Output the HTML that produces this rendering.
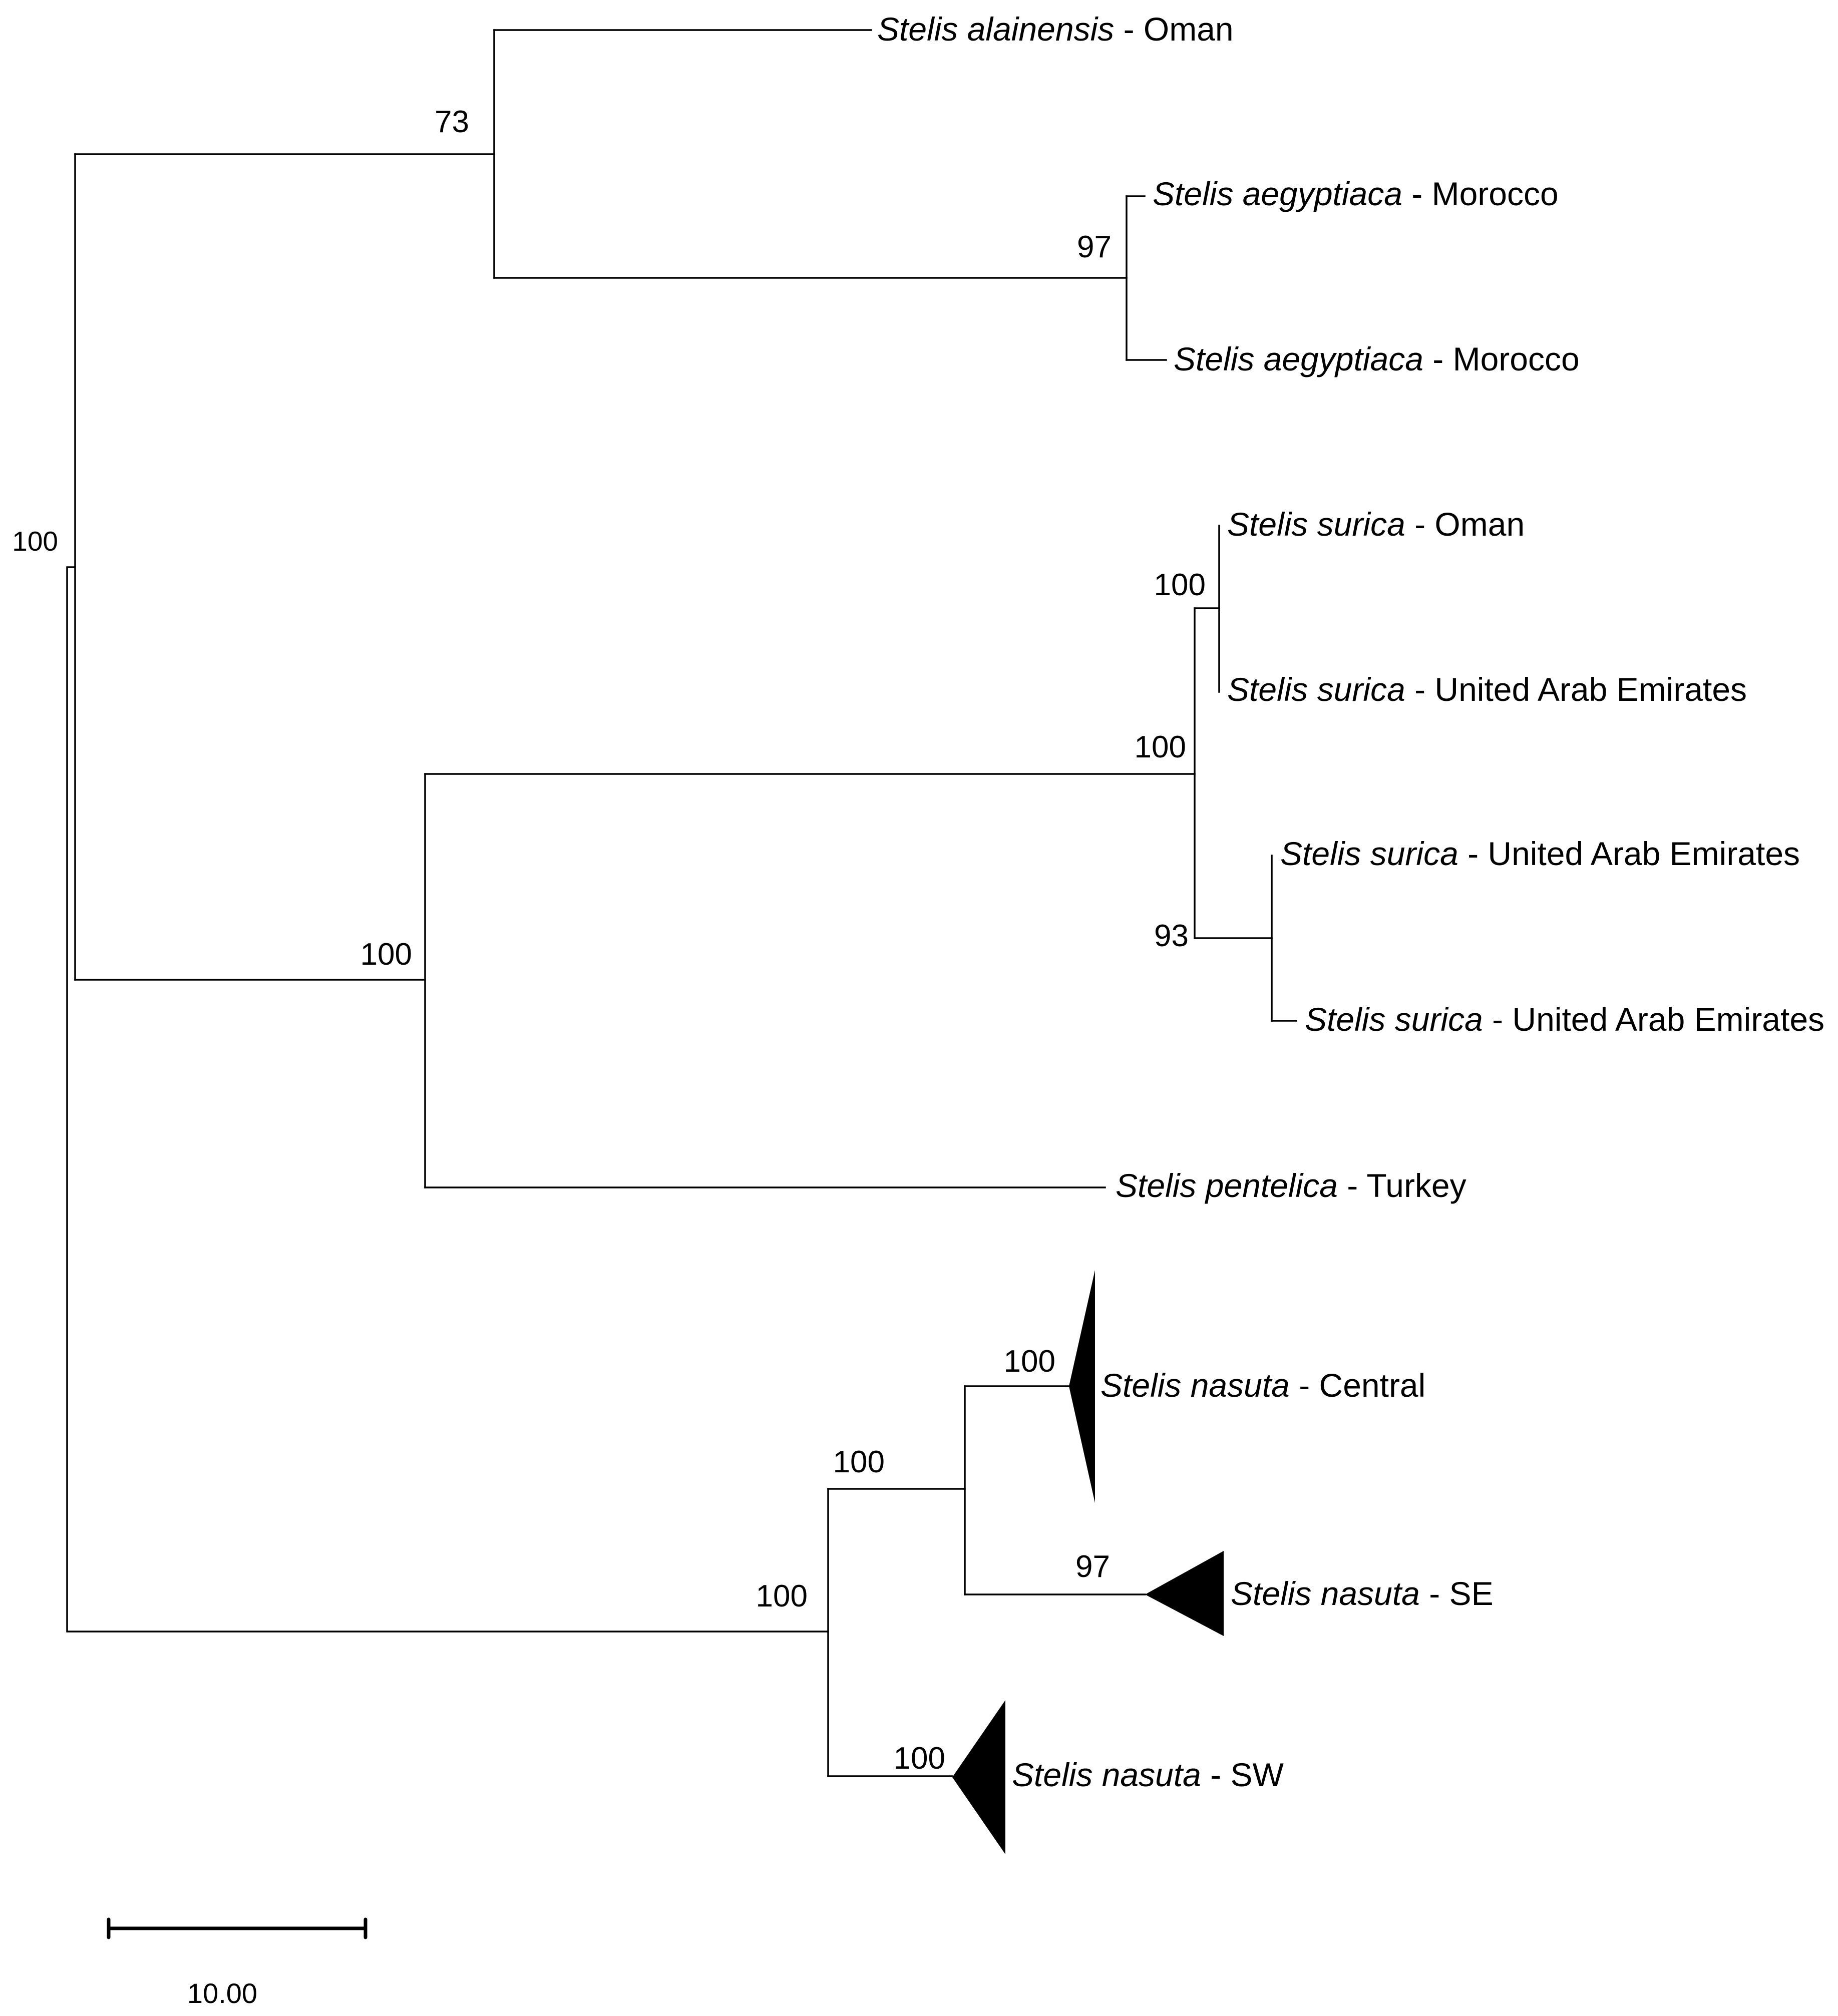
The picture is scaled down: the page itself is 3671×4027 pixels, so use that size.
<!DOCTYPE html>
<html><head><meta charset="utf-8"><style>
html,body{margin:0;padding:0;background:#fff}
svg{display:block}
text{font-family:"Liberation Sans",Arial,sans-serif;fill:#000}
.l{font-size:66px}
.s{font-size:62px;text-anchor:end}
</style></head><body>
<svg width="3671" height="4027" viewBox="0 0 3671 4027" xmlns="http://www.w3.org/2000/svg">
<g stroke="#000" stroke-width="3.5" fill="none" stroke-linecap="square">
<!-- root -->
<path d="M150 1133 H134 V3259 H1654"/>
<!-- upper clade -->
<path d="M150 308 V1957"/>
<path d="M150 308 H987"/>
<path d="M987 60 V555"/>
<path d="M987 60 H1740"/>
<path d="M987 555 H2250"/>
<path d="M2250 392 V719"/>
<path d="M2250 392 H2286"/>
<path d="M2250 719 H2329"/>
<!-- middle clade -->
<path d="M150 1957 H849"/>
<path d="M849 1546 V2372"/>
<path d="M849 1546 H2386"/>
<path d="M849 2372 H2207"/>
<path d="M2386 1215 V1874"/>
<path d="M2386 1215 H2435"/>
<path d="M2435 1050 V1382"/>
<path d="M2386 1874 H2540"/>
<path d="M2540 1709 V2039"/>
<path d="M2540 2039 H2589"/>
<!-- nasuta -->
<path d="M1654 2974 V3548"/>
<path d="M1654 2974 H1927"/>
<path d="M1927 2769 V3185"/>
<path d="M1927 2769 H2135"/>
<path d="M1927 3185 H2287"/>
<path d="M1654 3548 H1902"/>
</g>
<g fill="#000">
<polygon points="2135,2769 2187,2537 2187,3002"/>
<polygon points="2287,3185 2444,3098 2444,3268"/>
<polygon points="1902,3550 2008,3396 2008,3704"/>
</g>
<!-- scale bar -->
<g stroke="#000" stroke-width="7" stroke-linecap="round">
<path d="M217 3852 H730"/>
<path d="M217 3834 V3870"/>
<path d="M730 3834 V3870"/>
</g>
<text x="444" y="4001" style="font-size:56px" text-anchor="middle">10.00</text>

<!-- labels -->
<text class="l" x="1752" y="81"><tspan font-style="italic">Stelis alainensis</tspan> - Oman</text>
<text class="l" x="2302" y="410"><tspan font-style="italic">Stelis aegyptiaca</tspan> - Morocco</text>
<text class="l" x="2344" y="740"><tspan font-style="italic">Stelis aegyptiaca</tspan> - Morocco</text>
<text class="l" x="2451" y="1070"><tspan font-style="italic">Stelis surica</tspan> - Oman</text>
<text class="l" x="2451" y="1400"><tspan font-style="italic">Stelis surica</tspan> - United Arab Emirates</text>
<text class="l" x="2557" y="1728"><tspan font-style="italic">Stelis surica</tspan> - United Arab Emirates</text>
<text class="l" x="2606" y="2059"><tspan font-style="italic">Stelis surica</tspan> - United Arab Emirates</text>
<text class="l" x="2228" y="2391"><tspan font-style="italic">Stelis pentelica</tspan> - Turkey</text>
<text class="l" x="2198" y="2790"><tspan font-style="italic">Stelis nasuta</tspan> - Central</text>
<text class="l" x="2458" y="3206"><tspan font-style="italic">Stelis nasuta</tspan> - SE</text>
<text class="l" x="2021" y="3568"><tspan font-style="italic">Stelis nasuta</tspan> - SW</text>

<!-- support values -->
<text class="s" x="116" y="1100" style="font-size:55px">100</text>
<text class="s" x="937" y="264">73</text>
<text class="s" x="2220" y="514">97</text>
<text class="s" x="2408" y="1189">100</text>
<text class="s" x="2369" y="1513">100</text>
<text class="s" x="2374" y="1890">93</text>
<text class="s" x="823" y="1927">100</text>
<text class="s" x="2108" y="2740">100</text>
<text class="s" x="1767" y="2941">100</text>
<text class="s" x="2217" y="3150">97</text>
<text class="s" x="1613" y="3209">100</text>
<text class="s" x="1888" y="3533">100</text>
</svg>
</body></html>
